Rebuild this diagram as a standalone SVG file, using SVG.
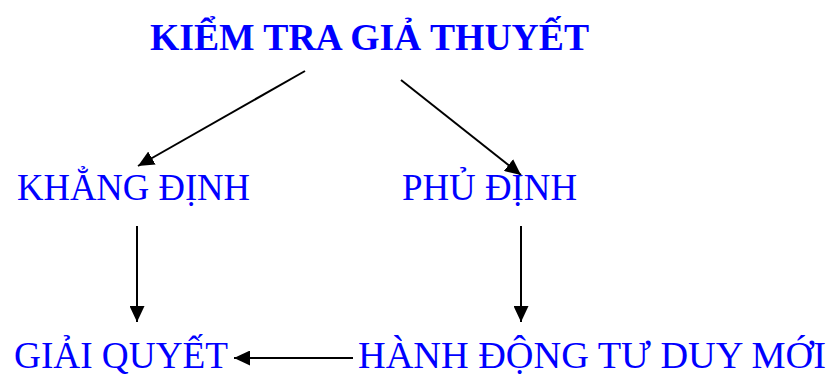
<svg xmlns="http://www.w3.org/2000/svg" width="835" height="375" viewBox="0 0 835 375">
<style>
.t{font-family:"Liberation Serif","Times New Roman",serif;font-size:37px;fill:#0000FF}
.b{font-weight:bold}
.c{stroke:#000;stroke-width:2;fill:none;marker-end:url(#ah)}
</style>
<defs>
<marker id="ah" markerUnits="userSpaceOnUse" markerWidth="16" markerHeight="15" refX="16" refY="7.5" orient="auto">
<path d="M0,0 L16,7.5 L0,15 z" fill="#000"/>
</marker>
</defs>
<rect width="835" height="375" fill="#fff"/>
<g id="connectors">
<line class="c" x1="305" y1="71" x2="138" y2="166"/>
<line class="c" x1="401" y1="80" x2="521" y2="175"/>
<line class="c" x1="137" y1="226" x2="137" y2="322"/>
<line class="c" x1="521" y1="226" x2="521" y2="322"/>
<line class="c" x1="353" y1="358" x2="234" y2="358"/>
</g>
<g id="kiem-tra"><text class="t b" x="150" y="50" textLength="439" lengthAdjust="spacingAndGlyphs">KIỂM TRA GIẢ THUYẾT</text></g>
<g id="khang-dinh"><text class="t" x="17" y="200" textLength="233" lengthAdjust="spacingAndGlyphs">KHẲNG ĐỊNH</text></g>
<g id="phu-dinh"><text class="t" x="402" y="200" textLength="175" lengthAdjust="spacingAndGlyphs">PHỦ ĐỊNH</text></g>
<g id="giai-quyet"><text class="t" x="14" y="368" textLength="214" lengthAdjust="spacingAndGlyphs">GIẢI QUYẾT</text></g>
<g id="hanh-dong"><text class="t" x="358" y="368" textLength="468" lengthAdjust="spacingAndGlyphs">HÀNH ĐỘNG TƯ DUY MỚI</text></g>
</svg>
